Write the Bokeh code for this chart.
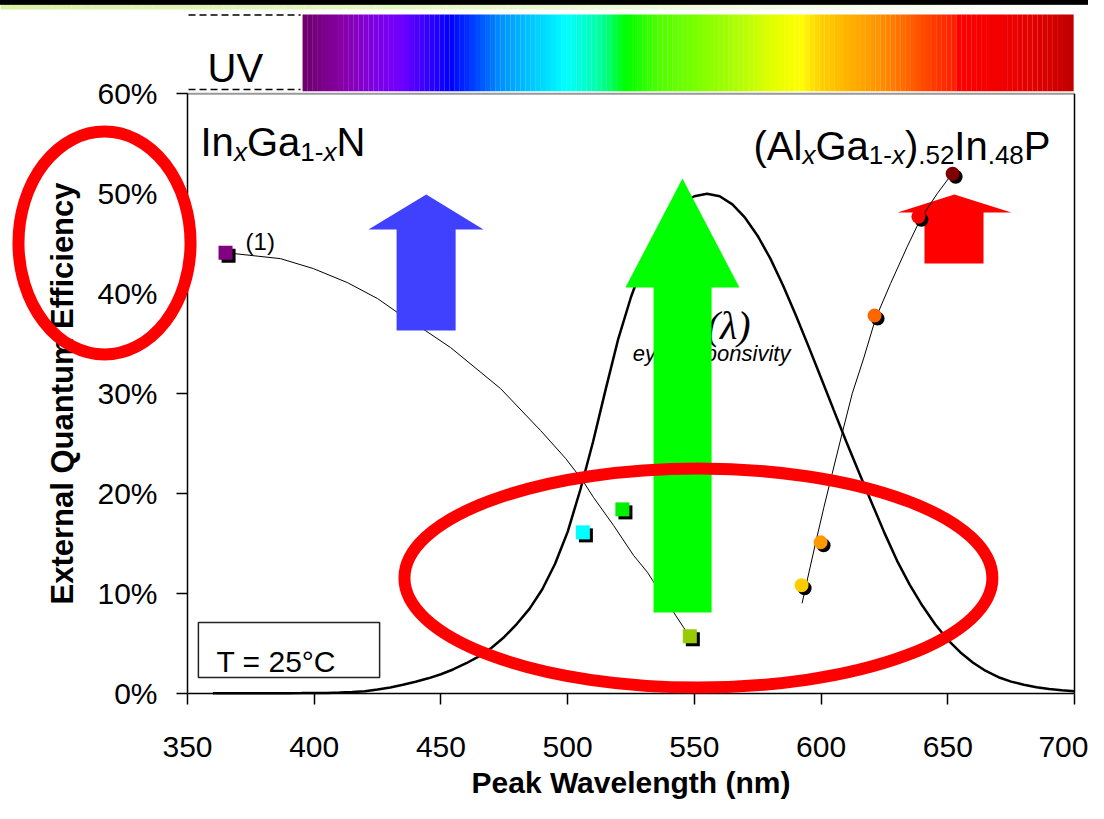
import numpy as np
from bokeh.plotting import figure
from bokeh.models import Range1d, NumeralTickFormatter, FixedTicker
from bokeh.core.properties import value
from bokeh.embed import file_html
from bokeh.resources import INLINE

# ---------------- data ----------------
x_ticks = [350, 400, 450, 500, 550, 600, 650, 700]
y_ticks = [0.0, 0.1, 0.2, 0.3, 0.4, 0.5, 0.6]

# InGaN LEDs (squares)
ingan_wl = [365.0, 506.0, 521.6, 548.2]
ingan_eqe = [0.441, 0.161, 0.184, 0.057]
ingan_colors = ["#800080", "#00FFFF", "#00EE00", "#99CC00"]

# AlGaInP LEDs (circles)
algainp_wl = [592.3, 599.8, 621.1, 638.4, 651.9]
algainp_eqe = [0.108, 0.151, 0.378, 0.477, 0.520]
algainp_colors = ["#FFCC00", "#FF9900", "#FF6600", "#FF0000", "#800000"]

# trend lines
ingan_fit_wl = [365.0, 386.7, 399.7, 413.1, 425.0, 432.9, 442.7, 453.8, 473.5, 489.3,
                499.2, 505.9, 510.2, 518.1, 526.0, 531.5, 533.5, 541.8, 545.7, 548.5]
ingan_fit_eqe = [0.441, 0.435, 0.425, 0.411, 0.395, 0.381, 0.365, 0.346, 0.305, 0.263,
                 0.235, 0.213, 0.196, 0.168, 0.138, 0.121, 0.113, 0.081, 0.066, 0.056]
algainp_fit_wl = [592.5, 593.9, 597.8, 601.1, 604.4, 608.3, 612.3, 616.9, 621.5, 627.4,
                  634.0, 639.3, 645.8, 651.7]
algainp_fit_eqe = [0.090, 0.106, 0.150, 0.186, 0.220, 0.260, 0.300, 0.336, 0.375, 0.410,
                   0.447, 0.475, 0.500, 0.520]

# eye response V(lambda), peak drawn at 50 %
vlambda_wl = list(range(360, 705, 5))
vlambda = [0.000003917, 0.000006965, 0.00001239, 0.00002202, 0.000039, 0.000064, 0.00012,
           0.000217, 0.000396, 0.00064, 0.00121, 0.00218, 0.004, 0.0073, 0.0116, 0.01684,
           0.023, 0.0298, 0.038, 0.048, 0.06, 0.0739, 0.09098, 0.1126, 0.13902, 0.1693,
           0.20802, 0.2586, 0.323, 0.4073, 0.503, 0.6082, 0.71, 0.7932, 0.862, 0.91485,
           0.954, 0.9803, 0.99495, 1.0, 0.995, 0.9786, 0.952, 0.9154, 0.87, 0.8163, 0.757,
           0.6949, 0.631, 0.5668, 0.503, 0.4412, 0.381, 0.321, 0.265, 0.217, 0.175, 0.1382,
           0.107, 0.0816, 0.061, 0.04458, 0.032, 0.0232, 0.017, 0.01192, 0.00821, 0.005723,
           0.004102]
vlambda_peak = 0.5

# spectrum bar colour stops
spec_stop_nm = [395.4, 397.4, 411.6, 423.0, 434.0, 444.0, 453.8, 463.0, 473.5, 486.0,
                499.2, 509.0, 514.0, 522.8, 536.6, 552.4, 568.2, 580.0, 591.9, 599.8,
                611.6, 623.4, 635.3, 647.1, 652.4, 653.0, 670.8, 686.6, 699.6]
spec_stop_col = ["#6A006A", "#700070", "#8800A8", "#8000E0", "#7000FF", "#3800FF", "#0000FF",
                 "#0040FF", "#0090FF", "#00C8FF", "#00FFFF", "#00FFC0", "#00FF90", "#00FF00",
                 "#50FF00", "#80FF00", "#B0FF00", "#E0FF00", "#FFFF00", "#FFD000", "#FFB000",
                 "#FF9000", "#FF6000", "#FF3000", "#FF2000", "#FF0000", "#F20000", "#DD0000",
                 "#C00000"]

# slide header strip colours (left to right)
header_stop_nm = [276.2, 490.0, 705.5]
header_stop_col = ["#D8F0A4", "#EAF7D0", "#FFFFFF"]

FONT = "Liberation Sans"
X0, X1 = 276.21, 705.52
Y0, Y1 = -0.1104, 0.6934

p = figure(width=1088, height=803,
           x_range=Range1d(X0, X1), y_range=Range1d(Y0, Y1),
           output_backend="svg", toolbar_location=None, min_border=0)
p.title.visible = False
p.grid.visible = False
p.outline_line_color = None
p.background_fill_color = "white"
p.border_fill_color = "white"

# axes placed at data locations
for ax in p.xaxis:
    ax.fixed_location = 0
    ax.bounds = (350, 700)
    ax.ticker = FixedTicker(ticks=x_ticks)
for ax in p.yaxis:
    ax.fixed_location = 350
    ax.bounds = (0, 0.6)
    ax.ticker = FixedTicker(ticks=y_ticks)
    ax.formatter = NumeralTickFormatter(format="0%")
for ax in list(p.xaxis) + list(p.yaxis):
    ax.axis_line_width = 1.5
    ax.axis_line_color = "black"
    ax.major_tick_line_width = 1.5
    ax.major_tick_line_color = "black"
    ax.major_tick_in = 0
    ax.major_tick_out = 11
    ax.minor_tick_line_color = None
    ax.major_label_text_font = FONT
    ax.major_label_text_font_size = "30px"
    ax.major_label_text_color = "black"
    ax.axis_label_text_font = FONT
    ax.axis_label_text_font_style = "bold"
    ax.axis_label_text_color = "black"
p.xaxis.axis_label_text_font_size = "30px"
p.yaxis.axis_label_text_font_size = "31px"
p.xaxis.major_label_standoff = 33
p.yaxis.major_label_standoff = 19
p.xaxis.axis_label = "Peak Wavelength (nm)"
p.yaxis.axis_label = "External Quantum Efficiency"
p.xaxis.axis_label_standoff = 5
p.yaxis.axis_label_standoff = 14

def txt(x, y, s, size, style="normal", align="left", font=FONT):
    p.text(x=[x], y=[y], text=[s], text_font=value(font), text_font_size=size,
           text_font_style=style, text_align=align, text_baseline="alphabetic",
           text_color="black")

def gradient(stop_nm, stop_col, step):
    edges = np.append(np.arange(stop_nm[0], stop_nm[-1], step), stop_nm[-1])
    mids = (edges[:-1] + edges[1:]) / 2
    rgb = np.array([[int(c[i:i + 2], 16) for i in (1, 3, 5)] for c in stop_col], float)
    cols = ["#%02x%02x%02x" % tuple(int(round(np.interp(m, stop_nm, rgb[:, k])))
                                    for k in range(3)) for m in mids]
    return edges, cols

# slide header: light green strip under a black bar
he, hc = gradient(header_stop_nm, header_stop_col, 4.0)
p.quad(left=he[:-1], right=he[1:] + 0.05, bottom=0.6844, top=0.6898, fill_color=hc,
       line_color=None)
p.quad(left=[X0 - 5], right=[X1 + 5], bottom=[0.6896], top=[Y1 + 0.02],
       fill_color="#000000", line_color="#000000", line_width=1, level="overlay")

# spectrum bar
se, sc = gradient(spec_stop_nm, spec_stop_col, 2.0)
p.quad(left=se[:-1], right=se[1:] + 0.05, bottom=0.6026, top=0.6794,
       fill_color=sc, line_color=None)

# UV marker
p.segment(x0=[350.4, 350.4], y0=[0.6789, 0.6043], x1=[394.6, 394.6], y1=[0.6789, 0.6043],
          line_color="black", line_width=1.5, line_dash="7 4")
txt(368.9, 0.6263, "UV", "40px", align="center")

# frame top and right
p.line(x=[350, 700], y=[0.6, 0.6], line_color="#999999", line_width=2)
p.line(x=[700, 700], y=[0.0, 0.6], line_color="black", line_width=1.5)

# eye response curve and trend line
p.line(x=vlambda_wl, y=[v * vlambda_peak for v in vlambda], line_color="black", line_width=2.5)
p.line(x=ingan_fit_wl, y=ingan_fit_eqe, line_color="black", line_width=1)

# labels
txt(572.2, 0.3681, "V(\u03bb)", "40px", style="italic", align="right", font="Liberation Serif")
txt(556.8, 0.340, "eye responsivity", "22px", style="italic", align="center")
txt(372.9, 0.4521, "(1)", "24px")

# material titles
b1, s1 = 0.5513, 0.5422
txt(355.13, b1, "In", "40px")
txt(368.31, s1, "x", "26px", style="italic")
txt(373.44, b1, "Ga", "40px")
txt(394.51, s1, "1-", "26px")
txt(403.62, s1, "x", "26px", style="italic")
txt(408.75, b1, "N", "40px")

b2, s2 = 0.5473, 0.5383
txt(573.34, b2, "(Al", "40px")
txt(592.63, s2, "x", "26px", style="italic")
txt(597.76, b2, "Ga", "40px")
txt(618.83, s2, "1-", "26px")
txt(627.94, s2, "x", "26px", style="italic")
txt(633.07, b2, ")", "40px")
txt(638.32, s2, ".52", "26px")
txt(652.56, b2, "In", "40px")
txt(665.74, s2, ".48", "26px")
txt(679.99, b2, "P", "40px")

# temperature box
p.quad(left=354.3, right=425.8, bottom=0.0157, top=0.0708, fill_color=None,
       line_color="#222222", line_width=1.5)
txt(361.44, 0.0317, "T = 25\u00b0C", "30px")

# arrows
p.patch(x=[432.5, 432.5, 421.4, 444.2, 466.8, 455.8, 455.8],
        y=[0.3631, 0.4641, 0.4641, 0.4992, 0.4641, 0.4641, 0.3631],
        fill_color="#4040FF", line_color=None)
p.patch(x=[533.9, 533.9, 522.8, 545.3, 567.8, 556.8, 556.8],
        y=[0.0808, 0.4061, 0.4061, 0.5152, 0.4061, 0.4061, 0.0808],
        fill_color="#00FF00", line_color=None)
p.patch(x=[640.8, 640.8, 630.2, 652.6, 675.1, 664.1, 664.1],
        y=[0.4301, 0.4812, 0.4812, 0.4992, 0.4812, 0.4812, 0.4301],
        fill_color="#FF0000", line_color=None)

p.line(x=algainp_fit_wl, y=algainp_fit_eqe, line_color="black", line_width=1)

# markers with drop shadow
dx, dy = 1.2, -0.003
p.scatter(x=[v + dx for v in ingan_wl], y=[v + dy for v in ingan_eqe], marker="square",
          size=14, fill_color="black", line_color=None)
p.scatter(x=ingan_wl, y=ingan_eqe, marker="square", size=14, fill_color=ingan_colors,
          line_color=None)
p.scatter(x=[v + dx for v in algainp_wl], y=[v + dy for v in algainp_eqe], marker="circle",
          size=14, fill_color="black", line_color=None)
p.scatter(x=algainp_wl, y=algainp_eqe, marker="circle", size=14, fill_color=algainp_colors,
          line_color=None)

# red highlight ellipses
p.ellipse(x=[317.25, 551.6], y=[0.4507, 0.1153], width=[67.9, 232.0], height=[0.2232, 0.2192],
          fill_color=None, line_color="#FF0000", line_width=12, level="overlay")

open("out.html", "w").write(file_html(p, INLINE))
